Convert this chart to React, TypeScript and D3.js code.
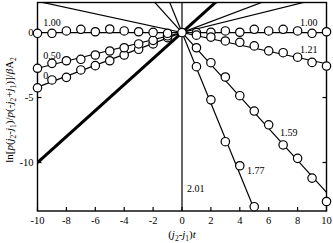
import React from 'react';
import * as d3 from 'd3';

// x values (j2-j1)t
const xNeg = [-10, -9, -8, -7, -6, -5, -4, -3, -2, -1];
const xPos = [1, 2, 3, 4, 5, 6, 7, 8, 9, 10];
const xAll = [-10, -9, -8, -7, -6, -5, -4, -3, -2, -1, 0, 1, 2, 3, 4, 5, 6, 7, 8, 9, 10];

const y000 = [-4.25, -3.65, -3.45, -2.88, -2.55, -2.17, -1.73, -1.29, -0.88, -0.4];
const y050 = [-2.75, -2.37, -2.17, -2.06, -1.73, -1.42, -1.17, -0.88, -0.6, -0.25];
const y100 = [-0.06, -0.06, 0.12, 0.25, 0.06, 0.27, 0.12, 0.06, 0.01, -0.06, 0, 0.0, 0.02, 0.12, 0.02, 0.25, 0.12, 0.25, 0.12, -0.06, 0.06];
const y121 = [-0.2, -0.35, -0.65, -0.75, -1.03, -1.41, -1.55, -1.9, -2.3, -2.58];
const y159 = [-1.17, -2.32, -3.42, -4.86, -6.04, -7.1, -8.65, -9.68, -11.2, -13.0];
const x177 = [1, 2, 3, 4, 5];
const y177 = [-2.63, -5.18, -8.4, -10.25, -13.4];

// fitted straight lines through the origin
const fitSlopes = [0.42, 0.275, 0, -0.24, -1.23, -2.72];
const refSlope = 1;

const xTicks = [-10, -8, -6, -4, -2, 0, 2, 4, 6, 8, 10];
const yTicks = [0, -5, -10];

const labels = [
  { text: '1.00', x: -9.6, y: 0.5 },
  { text: '0.50', x: -9.6, y: -2.0 },
  { text: '0', x: -9.6, y: -3.54 },
  { text: '1.00', x: 8.17, y: 0.54 },
  { text: '1.21', x: 8.17, y: -1.54 },
  { text: '1.59', x: 6.78, y: -7.96 },
  { text: '1.77', x: 4.5, y: -10.88 },
  { text: '2.01', x: 0.35, y: -12.23 },
];

const W = 333;
const H = 243;
const L = 37.5, R = 326.5, T = 2.5, B = 211;
const FONT = '"Liberation Serif", "DejaVu Serif", serif';

export default function App() {
  const x = d3.scaleLinear().domain([-10, 10]).range([L, R]);
  const y = d3.scaleLinear().domain([-13.73, 2.31]).range([B, T]);
  const line = d3.line<[number, number]>().x(d => x(d[0])).y(d => y(d[1]));

  const series = [
    { xs: xNeg, ys: y000 },
    { xs: xNeg, ys: y050 },
    { xs: xAll, ys: y100 },
    { xs: xPos, ys: y121 },
    { xs: xPos, ys: y159 },
    { xs: x177, ys: y177 },
  ];

  const fitPath = (k: number) => line([[-10, -10 * k], [10, 10 * k]]) as string;

  return (
    <svg width={W} height={H} style={{ position: 'absolute', left: 0, top: 0, background: '#fff' }}>
      <defs>
        <clipPath id="plot">
          <rect x={L} y={T} width={R - L} height={B - T} />
        </clipPath>
      </defs>
      <g clipPath="url(#plot)" fill="none" stroke="#000">
        {fitSlopes.map((k, i) => (
          <path key={i} d={fitPath(k)} strokeWidth={1.2} />
        ))}
        <path d={fitPath(refSlope)} strokeWidth={3} />
        <line x1={x(0)} x2={x(0)} y1={T} y2={B} strokeWidth={1.2} />
      </g>
      {/* frame */}
      <rect x={L} y={T} width={R - L} height={B - T} fill="none" stroke="#000" strokeWidth={1.4} />
      {xTicks.map(t => (
        <g key={'x' + t}>
          <line x1={x(t)} x2={x(t)} y1={B} y2={B - 4} stroke="#000" strokeWidth={1.2} />
          <text x={x(t)} y={224} textAnchor="middle" fontFamily={FONT} fontSize={10.5}>{t}</text>
        </g>
      ))}
      {yTicks.map(t => (
        <g key={'y' + t}>
          <line x1={L} x2={L + 4} y1={y(t)} y2={y(t)} stroke="#000" strokeWidth={1.2} />
          <line x1={R} x2={R - 4} y1={y(t)} y2={y(t)} stroke="#000" strokeWidth={1.2} />
          <text x={L - 4} y={y(t)} dy="0.35em" textAnchor="end" fontFamily={FONT} fontSize={10.5}>{t}</text>
        </g>
      ))}
      {series.map((s, i) => (
        <g key={'s' + i}>
          {s.xs.map((xv, j) => (
            <circle key={j} cx={x(xv)} cy={y(s.ys[j])} r={4.2} fill="#fff" stroke="#000" strokeWidth={1.2} />
          ))}
        </g>
      ))}
      {labels.map((l, i) => (
        <text key={'l' + i} x={x(l.x)} y={y(l.y)} fontFamily={FONT} fontSize={10} fill="#000">{l.text}</text>
      ))}
      <text x={182} y={238} textAnchor="middle" fontFamily={FONT} fontSize={11}>
        (<tspan fontStyle="italic">j</tspan><tspan fontSize={7.5} dy={2.5}>2</tspan><tspan dy={-2.5}>-</tspan><tspan fontStyle="italic">j</tspan><tspan fontSize={7.5} dy={2.5}>1</tspan><tspan dy={-2.5}>)</tspan><tspan fontStyle="italic">t</tspan>
      </text>
      <text transform="translate(13,110) rotate(-90)" textAnchor="middle" fontFamily={FONT} fontSize={11}>
        ln[<tspan fontStyle="italic">p</tspan>(<tspan fontStyle="italic">j</tspan><tspan fontSize={7.5} dy={2.5}>2</tspan><tspan dy={-2.5}>-</tspan><tspan fontStyle="italic">j</tspan><tspan fontSize={7.5} dy={2.5}>1</tspan><tspan dy={-2.5}>)/</tspan><tspan fontStyle="italic">p</tspan>(-<tspan fontStyle="italic">j</tspan><tspan fontSize={7.5} dy={2.5}>2</tspan><tspan dy={-2.5}>+</tspan><tspan fontStyle="italic">j</tspan><tspan fontSize={7.5} dy={2.5}>1</tspan><tspan dy={-2.5}>)]/</tspan><tspan fontStyle="italic">β</tspan>A<tspan fontSize={7.5} dy={2.5}>2</tspan>
      </text>
    </svg>
  );
}
